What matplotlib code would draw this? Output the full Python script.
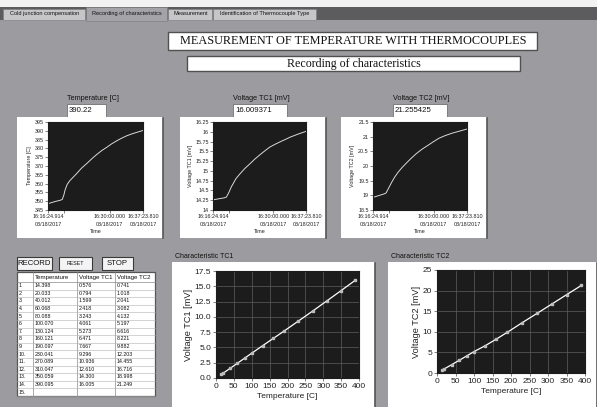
import matplotlib
matplotlib.use("Agg")
from matplotlib import pyplot as plt
from matplotlib.patches import Rectangle

W, H = 597, 407
plt.rcParams["font.family"] = ["Liberation Sans", "DejaVu Sans"]

# tabs of the front panel
tab_names = ["Cold junction compensation", "Recording of characteristics",
             "Measurement", "Identification of Thermocouple Type"]

# current readings
current_temp = "390.22"
current_tc1 = "16.009371"
current_tc2 = "21.255425"

# recorded characteristic table
row_no = ["1.", "2.", "3.", "4.", "5.", "6.", "7.", "8.", "9.", "10.",
          "11.", "12.", "13.", "14.", "15."]
temperature = [14.398, 20.033, 40.012, 60.068, 80.088, 100.070, 130.124,
               160.121, 190.097, 230.041, 270.089, 310.047, 350.059, 390.095]
voltage_tc1 = [0.576, 0.794, 1.599, 2.418, 3.243, 4.061, 5.273, 6.471,
               7.667, 9.296, 10.936, 12.610, 14.300, 16.005]
voltage_tc2 = [0.741, 1.018, 2.041, 3.082, 4.132, 5.197, 6.616, 8.221,
               9.882, 12.203, 14.455, 16.716, 18.998, 21.249]

# trend charts, seconds since 16:16:24.914
t_temp = [0, 101, 160, 189, 210, 227, 255, 290, 330, 378, 440, 516, 580,
          642, 710, 781, 840, 906, 975, 1045, 1115, 1183, 1259]
trend_temp = [348.6, 349.9, 350.5, 351.0, 353.5, 356.5, 359.6, 361.7, 363.5,
              365.6, 368.6, 371.5, 374.1, 376.4, 378.7, 380.7, 382.5, 384.2,
              385.8, 387.2, 388.3, 389.2, 390.2]
t_tc1 = [0, 88, 150, 181, 215, 250, 272, 310, 363, 430, 499, 565, 634, 700,
         770, 840, 905, 975, 1041, 1150, 1259]
trend_tc1 = [14.26, 14.29, 14.31, 14.33, 14.45, 14.60, 14.67, 14.80, 14.92,
             15.06, 15.18, 15.30, 15.41, 15.51, 15.61, 15.68, 15.74, 15.80,
             15.86, 15.94, 16.01]
t_tc2 = [0, 88, 150, 175, 210, 251, 290, 337, 390, 447, 510, 579, 655, 733,
         810, 886, 970, 1061, 1160, 1259]
trend_tc2 = [18.93, 19.0, 19.05, 19.08, 19.25, 19.45, 19.62, 19.79, 19.95,
             20.10, 20.26, 20.42, 20.57, 20.70, 20.83, 20.95, 21.04, 21.12,
             21.19, 21.26]
time_ticks = [0, 215.086, 815.086, 1258.896]
time_labels = ["16:16:24.914\n03/18/2017", "", "16:30:00.000\n03/18/2017",
               "16:37:23.810\n03/18/2017"]


def px_ax(fig, x0, y0, x1, y1):
    return fig.add_axes([x0 / W, 1 - y1 / H, (x1 - x0) / W, (y1 - y0) / H])


def box(bg, x0, y0, x1, y1, fc="white", ec="#6a6a6a", lw=0.8):
    bg.add_patch(Rectangle((x0, y0), x1 - x0, y1 - y0, fc=fc, ec=ec, lw=lw))


def panel(bg, x0, y0, x1, y1):
    bg.add_patch(Rectangle((x0, y0), x1 - x0, y1 - y0, fc="white", ec="none"))
    bg.plot([x1, x1], [y0 + 1, y1], color="#555555", lw=1.2)


def trend(fig, pos, t, v, ylim, yticks, ylabel):
    ax = px_ax(fig, *pos)
    ax.set_facecolor("#1c1c1c")
    ax.plot(t, v, color="#d9d9d9", lw=0.7)
    ax.set_xlim(0, time_ticks[-1])
    ax.set_ylim(*ylim)
    ax.set_yticks(yticks)
    ax.set_yticklabels(["{:g}".format(y) for y in yticks])
    ax.set_xticks(time_ticks)
    ax.set_xticklabels(time_labels, linespacing=1.6)
    ax.tick_params(length=2, width=0.4, pad=1, labelsize=3.9, colors="#222222")
    ax.set_ylabel(ylabel, fontsize=3.9, labelpad=2, color="#222222")
    ax.set_xlabel("Time", fontsize=3.9, labelpad=1.5, color="#222222")
    for s in ax.spines.values():
        s.set_color("#1c1c1c")
    return ax


def characteristic(fig, pos, x, y, ylim, yticks, yfmt, ylabel):
    ax = px_ax(fig, *pos)
    ax.set_facecolor("#1c1c1c")
    ax.set_axisbelow(True)
    ax.grid(color="#5e5e5e", lw=0.5)
    ax.plot(x, y, color="white", lw=0.9, marker="s", ms=1.6,
            mfc="#bdbdbd", mec="#bdbdbd")
    ax.set_xlim(0, 400)
    ax.set_xticks(range(0, 401, 50))
    ax.set_ylim(*ylim)
    ax.set_yticks(yticks)
    ax.set_yticklabels([yfmt.format(v) for v in yticks])
    ax.tick_params(length=2, width=0.4, pad=1.5, labelsize=6, colors="#222222")
    ax.set_xlabel("Temperature [C]", fontsize=6, labelpad=2, color="#222222")
    ax.set_ylabel(ylabel, fontsize=6.6, labelpad=1, color="#222222")
    for s in ax.spines.values():
        s.set_color("#1c1c1c")
    return ax


fig = plt.figure(figsize=(W / 100, H / 100), dpi=100, facecolor="#9c9ca0")
bg = fig.add_axes([0, 0, 1, 1])
bg.set_xlim(0, W)
bg.set_ylim(H, 0)
bg.axis("off")

# tab row
bg.add_patch(Rectangle((0, 0), W, 7, fc="#f2f2f2", ec="none"))
bg.add_patch(Rectangle((0, 7), W, 13, fc="#5c5c5e", ec="none"))
tab_x = [3, 86, 168, 213, 317]
for i, name in enumerate(tab_names):
    active = i == 1
    y0 = 7 if active else 8.5
    y1 = 21 if active else 20
    fc = "#a4a4a8" if active else "#c6c6c8"
    bg.add_patch(Rectangle((tab_x[i], y0), tab_x[i + 1] - tab_x[i] - 1, y1 - y0,
                           fc=fc, ec="#7a7a7a", lw=0.4))
    bg.text((tab_x[i] + tab_x[i + 1]) / 2, 13.5, name, fontsize=4.1,
            ha="center", va="center", color="#111111")

# titles
box(bg, 168, 32, 537, 50, ec="#505050", lw=1.0)
bg.text(353, 41, "MEASUREMENT OF TEMPERATURE WITH THERMOCOUPLES", fontsize=8.8,
        ha="center", va="center", family="Liberation Serif", color="#111111")
box(bg, 187, 56, 520, 71, ec="#505050", lw=1.0)
bg.text(354, 63.5, "Recording of characteristics", fontsize=8.6,
        ha="center", va="center", family="Liberation Serif", color="#111111")

# indicators above the trend charts
indicators = [(67, 106, "Temperature [C]", current_temp),
              (233, 287, "Voltage TC1 [mV]", current_tc1),
              (393, 447, "Voltage TC2 [mV]", current_tc2)]
for x0, x1, name, val in indicators:
    bg.text(x0, 99, name, fontsize=5.2, ha="left", va="center", color="#111111")
    box(bg, x0, 104, x1, 117, ec="#707070", lw=0.6)
    bg.text(x0 + 2, 110.5, val, fontsize=5.6, ha="left", va="center", color="#111111")

# trend charts
panel(bg, 17, 117, 163, 238)
panel(bg, 180, 117, 326, 238)
panel(bg, 341, 117, 487, 238)
trend(fig, (48, 122, 143, 210), t_temp, trend_temp, (345, 395),
      list(range(345, 396, 5)), "Temperature [C]")
trend(fig, (213, 122, 306, 210), t_tc1, trend_tc1, (14, 16.25),
      [14 + 0.25 * k for k in range(10)], "Voltage TC1 [mV]")
trend(fig, (373, 122, 467, 210), t_tc2, trend_tc2, (18.5, 21.5),
      [18.5 + 0.5 * k for k in range(7)], "Voltage TC2 [mV]")

# buttons
buttons = [(17, 52, "RECORD", 5.6), (59, 92, "RESET", 3.8), (102, 133, "STOP", 5.6)]
for x0, x1, name, fs in buttons:
    box(bg, x0, 257, x1, 270, fc="#f4f4f4", ec="#3a3a3a", lw=0.8)
    bg.text((x0 + x1) / 2, 263.5, name, fontsize=fs, ha="center", va="center",
            color="#111111")

# table
col_x = [17, 33, 77, 115, 155]
head_y0, head_y1 = 272, 282
row_h = (396 - head_y1) / len(row_no)
bg.add_patch(Rectangle((col_x[0], head_y0), col_x[-1] - col_x[0], 396 - head_y0,
                       fc="white", ec="#555555", lw=0.9))
headers = ["", "Temperature", "Voltage TC1", "Voltage TC2"]
for j, hname in enumerate(headers):
    bg.text(col_x[j] + 2, (head_y0 + head_y1) / 2, hname, fontsize=4.4,
            ha="left", va="center", color="#111111")
bg.plot([col_x[0], col_x[-1]], [head_y1, head_y1], color="#888888", lw=0.5)
for xc in col_x[1:-1]:
    bg.plot([xc, xc], [head_y0, 396], color="#888888", lw=0.5)
for i, lab in enumerate(row_no):
    yc = head_y1 + (i + 0.5) * row_h
    bg.plot([col_x[0], col_x[-1]], [head_y1 + (i + 1) * row_h] * 2,
            color="#b0b0b0", lw=0.4)
    bg.text(col_x[0] + 2, yc, lab, fontsize=3.8, ha="left", va="center",
            color="#111111")
    if i < len(temperature):
        cells = ["%.3f" % temperature[i], "%.3f" % voltage_tc1[i], "%.3f" % voltage_tc2[i]]
        for j, c in enumerate(cells):
            bg.text(col_x[j + 1] + 2, yc, c, fontsize=3.8, ha="left",
                    va="center", color="#111111")

# characteristic charts
bg.text(175, 257, "Characteristic TC1", fontsize=5, ha="left", va="center",
        color="#111111")
bg.text(391, 257, "Characteristic TC2", fontsize=5, ha="left", va="center",
        color="#111111")
panel(bg, 172, 262, 375, 407)
panel(bg, 388, 262, 597, 407)
characteristic(fig, (216, 271, 359, 378), temperature, voltage_tc1, (0, 17.5),
               [2.5 * k for k in range(8)], "{:.1f}", "Voltage TC1 [mV]")
characteristic(fig, (437, 270, 585, 373), temperature, voltage_tc2, (0, 25),
               list(range(0, 26, 5)), "{:d}", "Voltage TC2 [mV]")

fig.savefig("out.png", dpi=100, facecolor=fig.get_facecolor())
